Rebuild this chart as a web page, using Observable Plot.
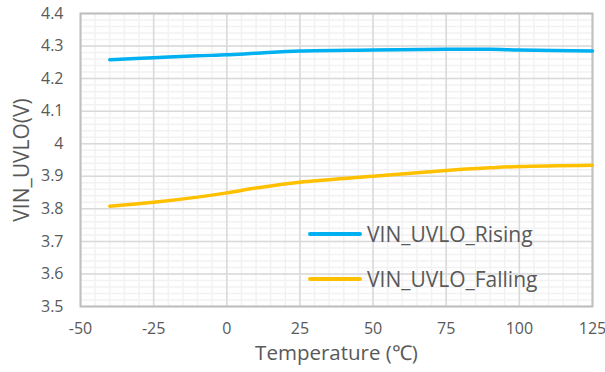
<!DOCTYPE html>
<html>
<head>
<meta charset="utf-8">
<script src="https://cdn.jsdelivr.net/npm/d3@7"></script>
<script src="https://cdn.jsdelivr.net/npm/@observablehq/plot@0.6"></script>
<style>
  html, body { margin: 0; padding: 0; background: #fff; }
  #wrap { position: relative; width: 605px; height: 372px; font-family: "Open Sans", sans-serif; }
  .legend { position: absolute; left: 308px; font-size: 21px; line-height: 26px; color: #595959; display: flex; align-items: center; white-space: nowrap; }
  .legend span.sw { display: inline-block; width: 54px; height: 4px; border-radius: 2px; margin-right: 5px; }
</style>
</head>
<body>
<div id="wrap"></div>
<script>
// Temperature sweep (°C) and UVLO thresholds (V)
const temperature = [-40, -25, -10, 0, 10, 25, 50, 75, 90, 100, 125];
const risingV  = [4.258, 4.264, 4.270, 4.273, 4.278, 4.285, 4.288, 4.290, 4.290, 4.288, 4.285];
const fallingV = [3.808, 3.820, 3.836, 3.849, 3.864, 3.882, 3.900, 3.918, 3.926, 3.930, 3.934];

const seriesNames = ["VIN_UVLO_Rising", "VIN_UVLO_Falling"];
const seriesColors = ["#00b0f0", "#ffc000"];

const xTicks = [-50, -25, 0, 25, 50, 75, 100, 125];
const yTicks = [3.5, 3.6, 3.7, 3.8, 3.9, 4.0, 4.1, 4.2, 4.3, 4.4];
const xMinor = d3.range(-50, 126, 5);
const yMinor = d3.range(0, 46).map(i => +(3.5 + i * 0.02).toFixed(2));

const rows = [
  ...temperature.map((t, i) => ({t, v: risingV[i], s: seriesNames[0]})),
  ...temperature.map((t, i) => ({t, v: fallingV[i], s: seriesNames[1]}))
];

const font = "'Open Sans', sans-serif";

const chart = Plot.plot({
  width: 605,
  height: 372,
  marginLeft: 80,
  marginRight: 13,
  marginTop: 13,
  marginBottom: 66,
  style: {fontFamily: font, background: "#fff"},
  x: {domain: [-50, 125]},
  y: {domain: [3.5, 4.4]},
  color: {domain: seriesNames, range: seriesColors},
  marks: [
    Plot.ruleX(xMinor, {stroke: "#f2f2f2", strokeWidth: 1.5}),
    Plot.ruleY(yMinor, {stroke: "#f2f2f2", strokeWidth: 1.5}),
    Plot.ruleX(xTicks, {stroke: "#d9d9d9", strokeWidth: 1.5}),
    Plot.ruleY(yTicks, {stroke: "#d9d9d9", strokeWidth: 1.5}),
    Plot.frame({stroke: "#bfbfbf", strokeWidth: 2}),
    Plot.axisX({ticks: xTicks, tickSize: 0, tickPadding: 16, fontSize: 16, fill: "#595959", label: null,
                tickFormat: d => String(d)}),
    Plot.axisY({ticks: yTicks, tickSize: 0, tickPadding: 17, fontSize: 16, fill: "#595959", label: null,
                tickFormat: d => String(+d.toFixed(1))}),
    Plot.line(rows, {x: "t", y: "v", z: "s", stroke: "s", strokeWidth: 3.5, curve: "catmull-rom"}),
    Plot.text(["Temperature (℃)"], {frameAnchor: "bottom", dy: 53, fontSize: 20.5, fill: "#595959"}),
    Plot.text(["VIN_UVLO(V)"], {frameAnchor: "left", textAnchor: "middle", dx: -58, rotate: -90, fontSize: 21, fill: "#595959"})
  ]
});

const wrap = document.getElementById("wrap");
wrap.appendChild(chart);

// In-plot legend, lower right
const legendTops = [221, 266];
seriesNames.forEach((name, i) => {
  const d = document.createElement("div");
  d.className = "legend";
  d.style.top = legendTops[i] + "px";
  d.innerHTML = `<span class="sw" style="background:${seriesColors[i]}"></span>${name}`;
  wrap.appendChild(d);
});
</script>
</body>
</html>
